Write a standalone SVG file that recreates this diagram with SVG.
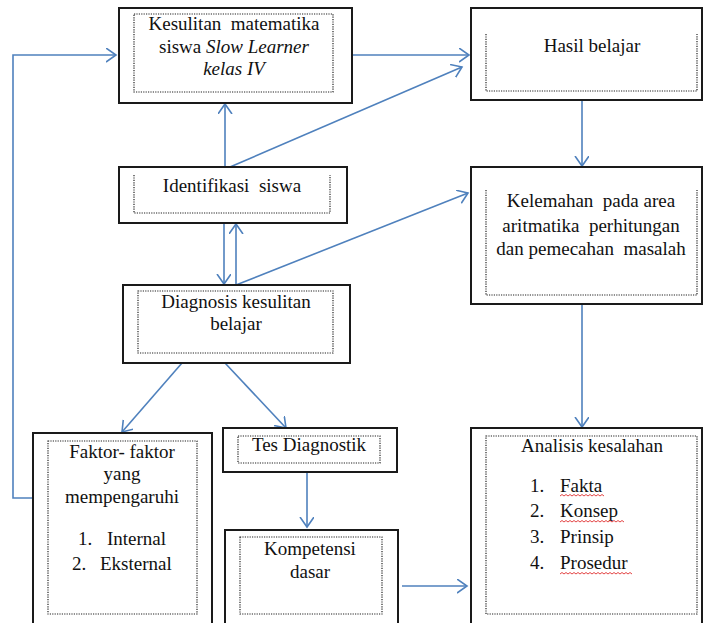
<svg xmlns="http://www.w3.org/2000/svg" width="704" height="623" viewBox="0 0 704 623">
<defs>
<marker id="ah" markerUnits="userSpaceOnUse" markerWidth="14" markerHeight="16" refX="10" refY="7" orient="auto">
<path d="M0,0 L10,7 L0,14" fill="none" stroke="#4f81bd" stroke-width="1.6"/>
</marker>
</defs>
<rect width="704" height="623" fill="#fff"/>

<g id="connectors" fill="none" stroke="#4f81bd" stroke-width="1.6" marker-end="url(#ah)">
<polyline points="33,498 13,498 13,55 116,55"/>
<line x1="352" y1="55" x2="469" y2="55"/>
<line x1="230" y1="167" x2="462" y2="67"/>
<line x1="225" y1="167" x2="225" y2="104"/>
<line x1="582" y1="100" x2="582" y2="166"/>
<line x1="224" y1="223" x2="224" y2="284"/>
<line x1="236" y1="285" x2="236" y2="224"/>
<line x1="236" y1="285" x2="468" y2="193"/>
<line x1="582" y1="304" x2="582" y2="427"/>
<line x1="182" y1="363" x2="122" y2="432"/>
<line x1="225" y1="363" x2="286" y2="428"/>
<line x1="307" y1="472" x2="307" y2="527"/>
<line x1="402" y1="586" x2="467" y2="586"/>
</g>

<g id="nodes" font-family="Liberation Serif, Times New Roman, Noto Serif, DejaVu Serif, serif" font-size="19" fill="#111">

<g id="kesulitan">
<rect x="119" y="8" width="233" height="95" fill="#fff" stroke="#1a1a1a" stroke-width="2"/>
<rect x="134" y="14" width="199" height="78" fill="none" stroke="#222" stroke-width="1.2" stroke-dasharray="1.2 1.2"/>
<text x="234" y="30" text-anchor="middle" xml:space="preserve">Kesulitan  matematika</text>
<text x="234" y="53" text-anchor="middle">siswa <tspan font-style="italic">Slow Learner</tspan></text>
<text x="234" y="75" text-anchor="middle" font-style="italic">kelas IV</text>
</g>

<g id="hasil">
<rect x="471" y="8" width="231" height="92" fill="#fff" stroke="#1a1a1a" stroke-width="2"/>
<path d="M486,34 V91 H697 V34" fill="none" stroke="#222" stroke-width="1.2" stroke-dasharray="1.2 1.2"/>
<text x="592" y="52" text-anchor="middle">Hasil belajar</text>
</g>

<g id="identifikasi">
<rect x="119" y="167" width="228" height="56" fill="#fff" stroke="#1a1a1a" stroke-width="2"/>
<path d="M134,175 V213 H330 V175" fill="none" stroke="#222" stroke-width="1.2" stroke-dasharray="1.2 1.2"/>
<text x="232" y="192" text-anchor="middle" xml:space="preserve">Identifikasi  siswa</text>
</g>

<g id="diagnosis">
<rect x="123" y="285" width="227" height="78" fill="#fff" stroke="#1a1a1a" stroke-width="2"/>
<rect x="138" y="291" width="195" height="62" fill="none" stroke="#222" stroke-width="1.2" stroke-dasharray="1.2 1.2"/>
<text x="236" y="308" text-anchor="middle">Diagnosis kesulitan</text>
<text x="236" y="330" text-anchor="middle">belajar</text>
</g>

<g id="kelemahan">
<rect x="471" y="167" width="231" height="137" fill="#fff" stroke="#1a1a1a" stroke-width="2"/>
<path d="M486,190 V295 H697 V190" fill="none" stroke="#222" stroke-width="1.2" stroke-dasharray="1.2 1.2"/>
<text x="591" y="207" text-anchor="middle" xml:space="preserve">Kelemahan  pada area</text>
<text x="591" y="232" text-anchor="middle" xml:space="preserve">aritmatika  perhitungan</text>
<text x="591" y="255" text-anchor="middle" xml:space="preserve">dan pemecahan  masalah</text>
</g>

<g id="faktor">
<rect x="33" y="433" width="179" height="192" fill="#fff" stroke="#1a1a1a" stroke-width="2"/>
<rect x="48" y="441" width="149" height="173" fill="none" stroke="#222" stroke-width="1.2" stroke-dasharray="1.2 1.2"/>
<text x="122" y="458" text-anchor="middle">Faktor- faktor</text>
<text x="122" y="480" text-anchor="middle">yang</text>
<text x="122" y="503" text-anchor="middle">mempengaruhi</text>
<text x="78" y="545">1.</text>
<text x="107" y="545">Internal</text>
<text x="72" y="570">2.</text>
<text x="100" y="570">Eksternal</text>
</g>

<g id="tes">
<rect x="223" y="428" width="174" height="44" fill="#fff" stroke="#1a1a1a" stroke-width="2"/>
<rect x="238" y="436" width="142" height="27" fill="none" stroke="#222" stroke-width="1.2" stroke-dasharray="1.2 1.2"/>
<text x="309" y="451" text-anchor="middle">Tes Diagnostik</text>
</g>

<g id="kompetensi">
<rect x="225" y="530" width="173" height="95" fill="#fff" stroke="#1a1a1a" stroke-width="2"/>
<rect x="240" y="537" width="142" height="77" fill="none" stroke="#222" stroke-width="1.2" stroke-dasharray="1.2 1.2"/>
<text x="310" y="555" text-anchor="middle">Kompetensi</text>
<text x="310" y="578" text-anchor="middle">dasar</text>
</g>

<g id="analisis">
<rect x="471" y="428" width="231" height="197" fill="#fff" stroke="#1a1a1a" stroke-width="2"/>
<rect x="486" y="436" width="211" height="178" fill="none" stroke="#222" stroke-width="1.2" stroke-dasharray="1.2 1.2"/>
<text x="592" y="452" text-anchor="middle">Analisis kesalahan</text>
<text x="530" y="492">1.</text>
<text x="560" y="492">Fakta</text>
<text x="530" y="517">2.</text>
<text x="560" y="517">Konsep</text>
<text x="530" y="543">3.</text>
<text x="560" y="543">Prinsip</text>
<text x="530" y="569">4.</text>
<text x="560" y="569">Prosedur</text>
<g fill="none" stroke="#e03030" stroke-width="0.9">
<path d="M560,496 l2,-1.5 l2,1.5 l2,-1.5 l2,1.5 l2,-1.5 l2,1.5 l2,-1.5 l2,1.5 l2,-1.5 l2,1.5 l2,-1.5 l2,1.5 l2,-1.5 l2,1.5 l2,-1.5 l2,1.5 l2,-1.5 l2,1.5 l2,-1.5 l2,1.5 l2,-1.5 l2,1.5"/>
<path d="M560,522 l2,-1.5 l2,1.5 l2,-1.5 l2,1.5 l2,-1.5 l2,1.5 l2,-1.5 l2,1.5 l2,-1.5 l2,1.5 l2,-1.5 l2,1.5 l2,-1.5 l2,1.5 l2,-1.5 l2,1.5 l2,-1.5 l2,1.5 l2,-1.5 l2,1.5 l2,-1.5 l2,1.5 l2,-1.5 l2,1.5 l2,-1.5 l2,1.5 l2,-1.5 l2,1.5 l2,-1.5 l2,1.5 l2,-1.5 l2,1.5"/>
<path d="M560,574 l2,-1.5 l2,1.5 l2,-1.5 l2,1.5 l2,-1.5 l2,1.5 l2,-1.5 l2,1.5 l2,-1.5 l2,1.5 l2,-1.5 l2,1.5 l2,-1.5 l2,1.5 l2,-1.5 l2,1.5 l2,-1.5 l2,1.5 l2,-1.5 l2,1.5 l2,-1.5 l2,1.5 l2,-1.5 l2,1.5 l2,-1.5 l2,1.5 l2,-1.5 l2,1.5 l2,-1.5 l2,1.5 l2,-1.5 l2,1.5 l2,-1.5 l2,1.5 l2,-1.5 l2,1.5"/>
</g>
</g>
</g>
</svg>
